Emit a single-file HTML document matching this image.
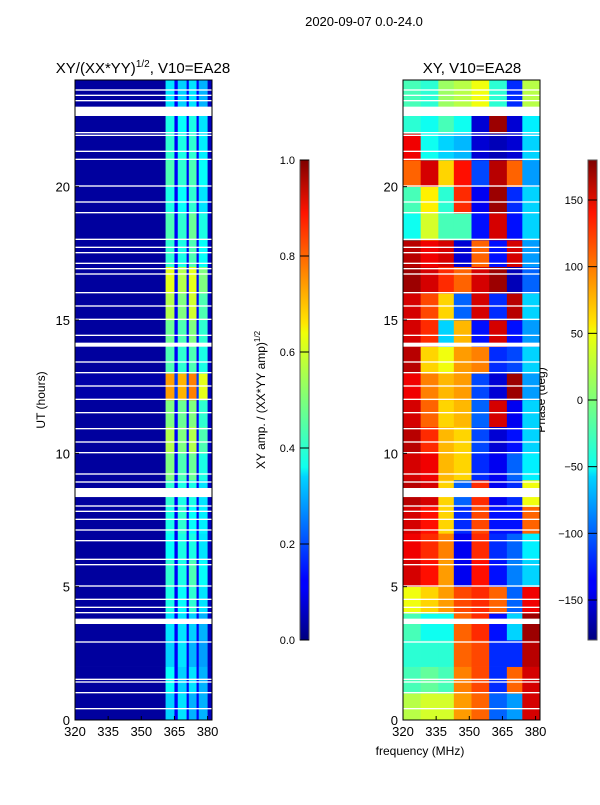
<!DOCTYPE html>
<html><head><meta charset="utf-8"><style>
body{margin:0;background:#fff;width:600px;height:800px;overflow:hidden}
svg text{font-family:"Liberation Sans","DejaVu Sans",sans-serif;fill:#000}
</style></head><body>
<svg id="c" width="600" height="800" xmlns="http://www.w3.org/2000/svg">
<defs>
<linearGradient id="jet" x1="0" y1="1" x2="0" y2="0">
<stop offset="0" stop-color="#00007f"/><stop offset="0.11" stop-color="#0000ff"/><stop offset="0.125" stop-color="#0000ff"/>
<stop offset="0.34" stop-color="#00d4ff"/><stop offset="0.36" stop-color="#0dffef"/><stop offset="0.5" stop-color="#7dff7a"/>
<stop offset="0.64" stop-color="#f0ff06"/><stop offset="0.66" stop-color="#ffe600"/><stop offset="0.89" stop-color="#ff1400"/>
<stop offset="1" stop-color="#7f0000"/></linearGradient>
</defs>
<text x="364" y="26" font-size="13" text-anchor="middle">2020-09-07 0.0-24.0</text>
<text x="143" y="73" font-size="15" text-anchor="middle">XY/(XX*YY)<tspan font-size="10" dy="-6">1/2</tspan><tspan dy="6">, V10=EA28</tspan></text>
<text x="472" y="73" font-size="15" text-anchor="middle">XY, V10=EA28</text>
<text x="420" y="755" font-size="12" text-anchor="middle">frequency (MHz)</text>
<text transform="translate(45,400) rotate(-90)" font-size="12" text-anchor="middle">UT (hours)</text>
<text transform="translate(265,400) rotate(-90)" font-size="12" text-anchor="middle">XY amp. / (XX*YY amp)<tspan font-size="8" dy="-5">1/2</tspan></text>
<text transform="translate(545,400) rotate(-90)" font-size="12" text-anchor="middle">Phase (deg)</text>
<g id="L"></g>
<g id="R"></g>
<g id="ax"></g>
</svg>
<script>
// data
const hours=[0,1,2,3,4,5,6,7,8,9,10,11,12,13,14,15,16,17,18,19,20,21,22,23];
const ampFreqEdges=[320,361,365,366.5,370.5,371.5,375,376,380,382];
const ampValues=[
[0.03,0.33,0.12,0.35,0.12,0.3,0.12,0.3,0.06],
[0.03,0.38,0.12,0.33,0.12,0.35,0.12,0.3,0.06],
[0.03,0.33,0.12,0.35,0.12,0.3,0.12,0.28,0.06],
[0.03,0.35,0.12,0.35,0.12,0.33,0.12,0.3,0.06],
[0.03,0.4,0.12,0.38,0.12,0.42,0.12,0.35,0.06],
[0.03,0.42,0.12,0.4,0.12,0.45,0.12,0.38,0.06],
[0.03,0.38,0.12,0.4,0.12,0.4,0.12,0.35,0.06],
[0.03,0.4,0.12,0.42,0.12,0.38,0.12,0.36,0.06],
[0.03,0.42,0.12,0.4,0.12,0.4,0.12,0.35,0.06],
[0.03,0.5,0.12,0.45,0.12,0.48,0.12,0.4,0.06],
[0.03,0.55,0.12,0.5,0.12,0.55,0.12,0.45,0.06],
[0.03,0.5,0.12,0.48,0.12,0.5,0.12,0.42,0.06],
[0.04,0.72,0.18,0.7,0.18,0.75,0.18,0.6,0.06],
[0.03,0.45,0.12,0.42,0.12,0.45,0.12,0.4,0.06],
[0.03,0.48,0.12,0.45,0.12,0.5,0.12,0.42,0.06],
[0.03,0.55,0.12,0.5,0.12,0.58,0.12,0.45,0.06],
[0.03,0.6,0.12,0.55,0.12,0.6,0.12,0.5,0.06],
[0.03,0.42,0.12,0.4,0.12,0.45,0.12,0.38,0.06],
[0.03,0.45,0.12,0.42,0.12,0.48,0.12,0.4,0.06],
[0.03,0.4,0.12,0.38,0.12,0.42,0.12,0.35,0.06],
[0.03,0.45,0.12,0.42,0.12,0.45,0.12,0.38,0.06],
[0.03,0.42,0.12,0.4,0.12,0.42,0.12,0.36,0.06],
[0.03,0.4,0.12,0.38,0.12,0.4,0.12,0.35,0.06],
[0.03,0.35,0.12,0.33,0.12,0.35,0.12,0.3,0.06]];
const phaseFreqEdges=[320,328,336,343,351,359,367,374,382];
const phaseValues=[
[20,30,30,80,100,-100,-80,150],[-20,-10,-20,90,110,-120,100,150],
[-30,-30,-30,100,110,-120,-120,160],[-20,-40,-40,100,120,-130,-60,170],
[40,60,80,110,120,100,-100,140],[150,130,80,-140,130,-130,-90,-60],
[140,120,90,-140,120,-120,-100,-50],[150,130,60,-120,110,-130,-130,100],
[160,150,60,-100,120,-140,-120,40],[150,140,70,60,-120,-140,-100,-50],
[160,120,70,60,-110,-150,-130,-60],[150,100,60,70,-100,150,-140,-60],
[140,90,70,80,-110,-150,170,-80],[160,60,40,80,90,-120,-110,-60],
[150,120,-60,70,-130,150,-130,-80],[150,110,60,-100,150,-120,160,-60],
[170,150,120,100,150,170,-160,-100],[160,140,150,-150,100,-130,150,-80],
[-40,30,-20,-20,-130,150,-130,-60],[-20,50,-30,120,-140,170,-120,-60],
[100,150,60,130,-110,160,100,-80],[140,-40,-60,-70,-150,-160,-150,-60],
[-30,-40,-20,-40,-150,170,-150,-50],[-20,-30,10,20,40,-30,-120,20]];
const gapStarts=[0.4,1.0,1.4,1.5,2.9,3.6,4.0,4.2,4.5,5.0,5.8,6.0,6.7,7.1,7.5,7.8,8.0,8.36,8.9,9.2,10.0,10.4,10.9,11.5,12.0,12.5,13.0,13.4,14.0,14.4,15.0,15.5,16.0,16.7,16.9,17.1,17.5,17.7,18.0,19.0,19.4,20.0,21.0,21.3,21.9,22.0,22.65,23.2,23.4,23.6];
const gapEnds=[0.45,1.05,1.45,1.55,2.95,3.8,4.05,4.25,4.55,5.05,5.85,6.05,6.75,7.15,7.55,7.85,8.05,8.7,8.95,9.25,10.05,10.45,10.95,11.55,12.05,12.55,13.05,13.45,14.15,14.45,15.05,15.55,16.05,16.75,16.95,17.15,17.55,17.75,18.05,19.05,19.45,20.05,21.05,21.35,21.95,22.05,23.0,23.25,23.45,23.65];
const xTicks=[320,335,350,365,380];
const yTicks=[0,5,10,15,20];
const ampTicks=[0.0,0.2,0.4,0.6,0.8,1.0];
const phaseTicks=[-150,-100,-50,0,50,100,150];

const NS='http://www.w3.org/2000/svg';
function mk(t,a,p){const e=document.createElementNS(NS,t);for(const k in a)e.setAttribute(k,a[k]);p.appendChild(e);return e;}
function jet(v){v=Math.max(0,Math.min(1,v));
 const r=Math.max(0,Math.min(1,Math.min(4*v-1.5,-4*v+4.5)));
 const g=Math.max(0,Math.min(1,Math.min(4*v-0.5,-4*v+3.5)));
 const b=Math.max(0,Math.min(1,Math.min(4*v+0.5,-4*v+2.5)));
 return `rgb(${Math.round(r*255)},${Math.round(g*255)},${Math.round(b*255)})`;}
const panels=[{x0:75,x1:212},{x0:403,x1:540}];
const Y0=720,Y1=80;
function ys(h){return Y0-(h/24)*(Y0-Y1);}
function xs(p,f){return p.x0+(f-320)/(382-320)*(p.x1-p.x0);}
const L=document.getElementById('L'),R=document.getElementById('R'),AX=document.getElementById('ax');
function heat(g,p,edges,vals,norm){
 hours.forEach((h,i)=>{vals[i].forEach((v,j)=>{
  const x=xs(p,edges[j]),w=xs(p,edges[j+1])-x;
  const c=mk('rect',{x:x,y:ys(h+1),width:w+0.3,height:ys(h)-ys(h+1)+0.3,fill:jet(norm(v))},g);
  
  
 });});
 gapStarts.forEach((s,i)=>{
  const r=mk('rect',{x:p.x0,y:ys(gapEnds[i]),width:p.x1-p.x0,height:Math.max(1,ys(s)-ys(gapEnds[i])),fill:'#fff'},g);
  
  
 });
}
heat(L,panels[0],ampFreqEdges,ampValues,v=>v);
heat(R,panels[1],phaseFreqEdges,phaseValues,v=>(v+180)/360);
panels.forEach(p=>{
 const f=mk('rect',{x:p.x0,y:Y1,width:p.x1-p.x0,height:Y0-Y1,fill:'none',stroke:'#000','stroke-width':1},AX);
 
 
 xTicks.forEach(t=>{const x=xs(p,t);
  mk('line',{x1:x,x2:x,y1:Y0,y2:Y0-4,stroke:'#000'},AX);
  const tx=mk('text',{x:x,y:Y0+16,'font-size':13,'text-anchor':'middle'},AX);tx.textContent=t;
  
  });
 yTicks.forEach(t=>{const y=ys(t);
  mk('line',{x1:p.x0,x2:p.x0+4,y1:y,y2:y,stroke:'#000'},AX);
  const tx=mk('text',{x:p.x0-5,y:y+5,'font-size':13,'text-anchor':'end'},AX);tx.textContent=t;
  
  });
});
function cbar(x,lo,hi,ticks,fmt,name){
 const b=mk('rect',{x:x,y:160,width:9,height:480,fill:'url(#jet)',stroke:'#555','stroke-width':1},AX);
 
 
 ticks.forEach(t=>{const y=640-(t-lo)/(hi-lo)*480;
  mk('line',{x1:x,x2:x+9,y1:y,y2:y,stroke:'#000'},AX);
  const tx=mk('text',{x:x-5,y:y+4,'font-size':11,'text-anchor':'end'},AX);tx.textContent=fmt(t);
  
  });
}
cbar(300,0,1,ampTicks,t=>t.toFixed(1),'amp-colorbar');
cbar(588,-180,180,phaseTicks,t=>t<0?'\u2212'+Math.abs(t):''+t,'phase-colorbar');
</script>
</body></html>
